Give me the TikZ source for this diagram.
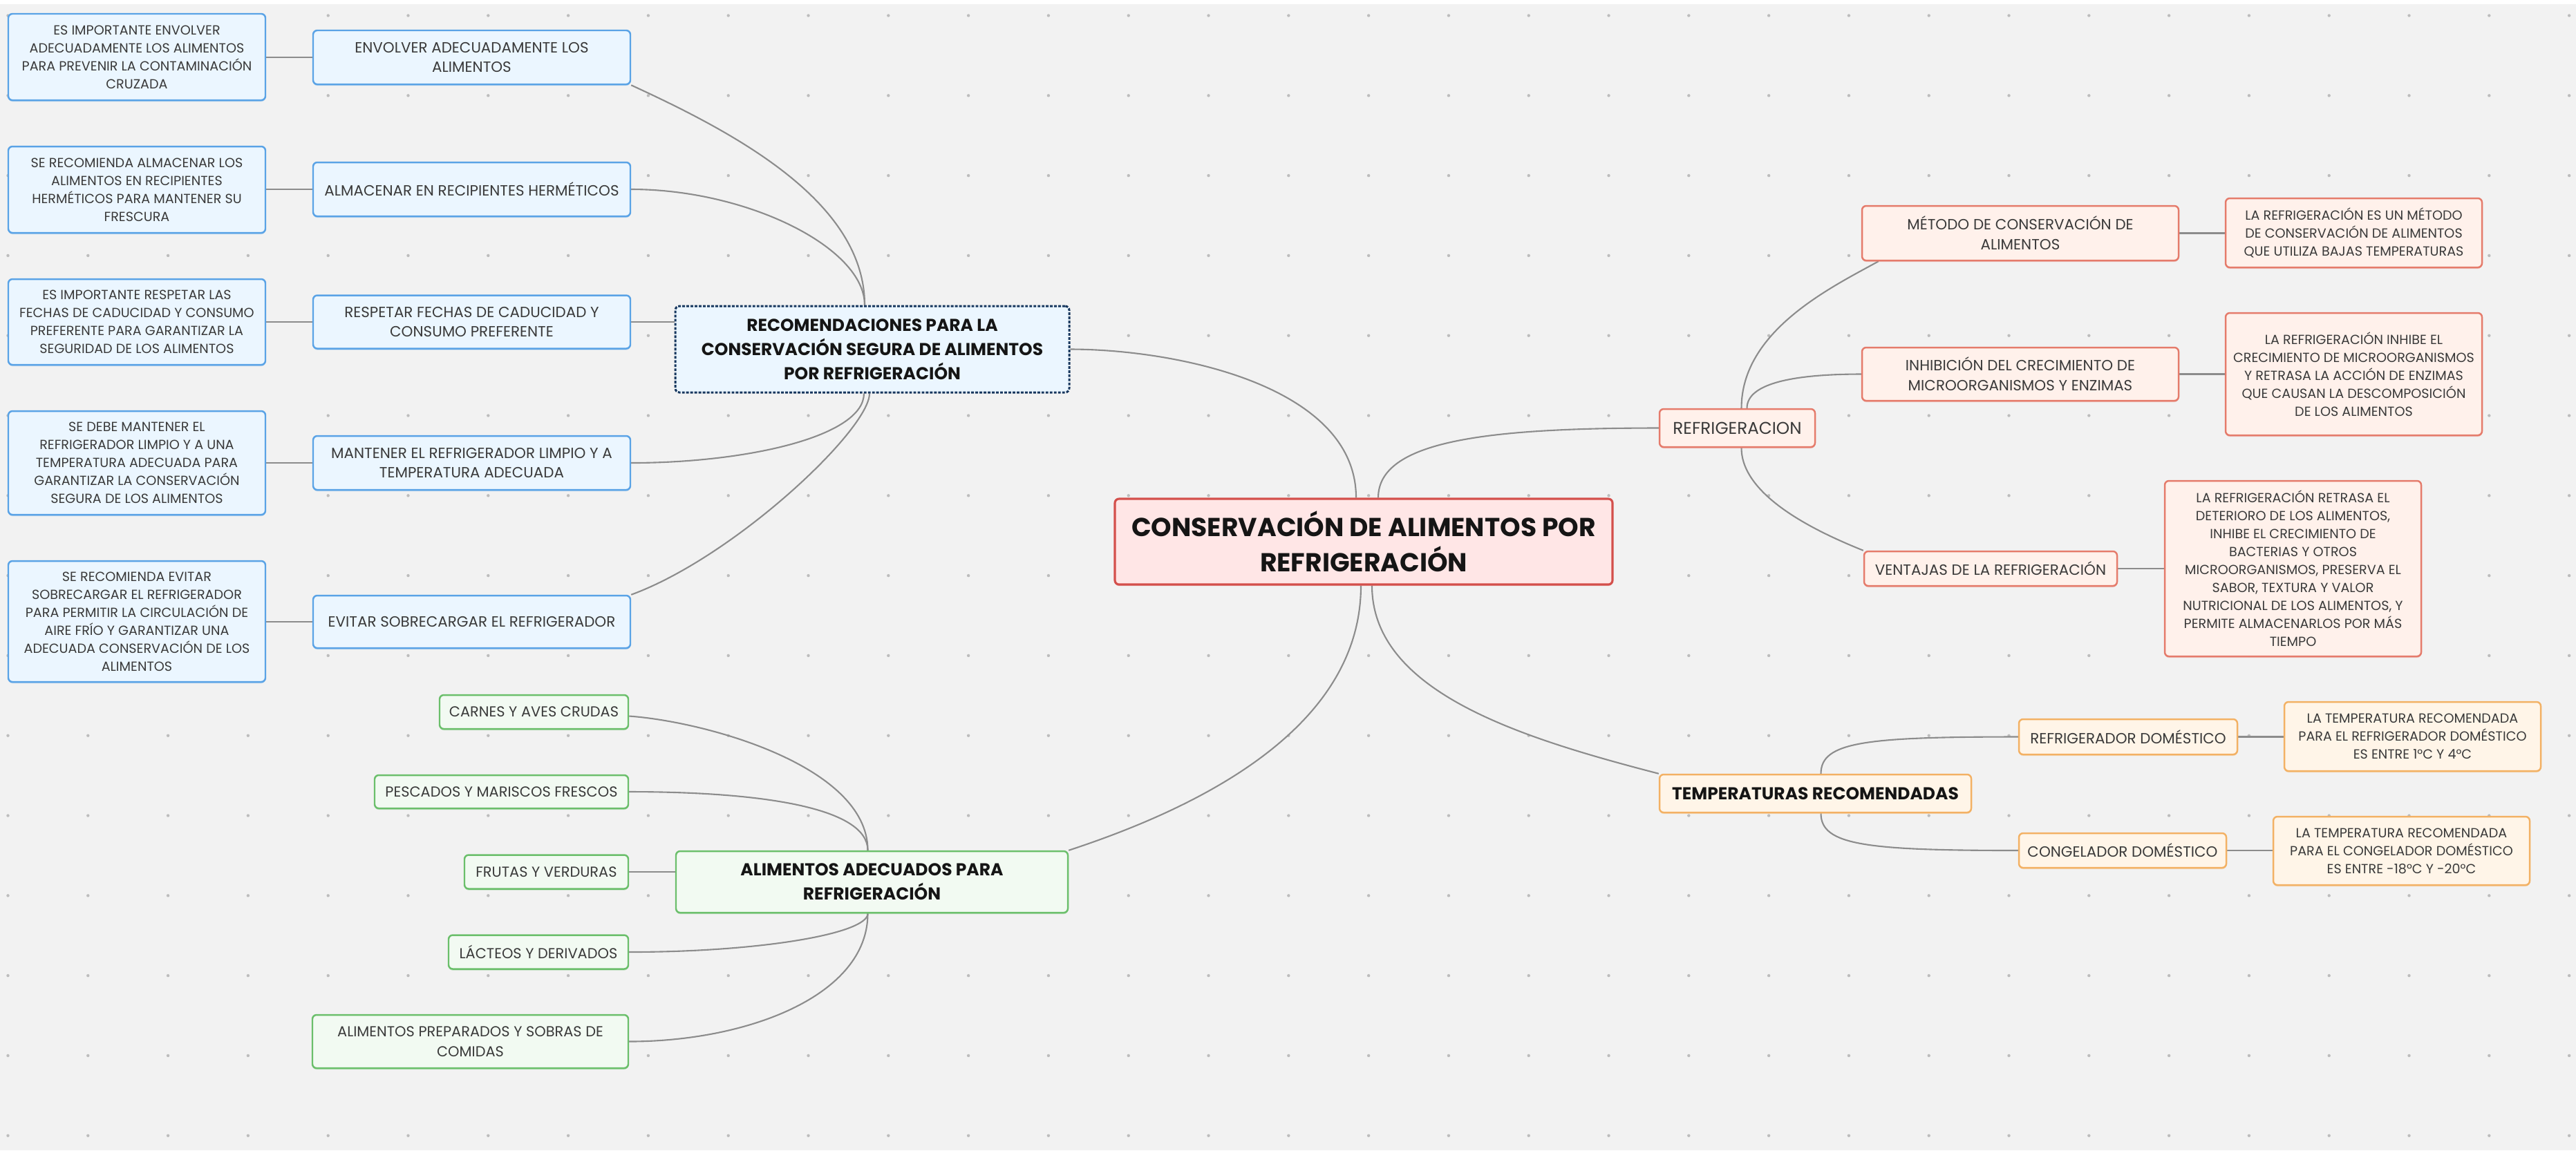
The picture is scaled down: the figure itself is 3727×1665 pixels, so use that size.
\documentclass[tikz,border=0pt]{standalone}
\usepackage{fontspec}
\setmainfont{Poppins}
\usetikzlibrary{calc,shadows}
\definecolor{bgc}{HTML}{F2F2F2}
\definecolor{dotc}{HTML}{BDBDBD}
\definecolor{linec}{HTML}{8C8C8C}
\definecolor{txt}{HTML}{3A3A3A}
\definecolor{txtb}{HTML}{151515}
\definecolor{blueB}{HTML}{5AA3E6}
\definecolor{blueF}{HTML}{EBF6FF}
\definecolor{navy}{HTML}{17375E}
\definecolor{redB}{HTML}{D4504C}
\definecolor{redF}{HTML}{FFE6E6}
\definecolor{salB}{HTML}{E57B6B}
\definecolor{salF}{HTML}{FFF1EB}
\definecolor{oraB}{HTML}{F3B164}
\definecolor{oraF}{HTML}{FFF5E8}
\definecolor{grnB}{HTML}{6BBF6B}
\definecolor{grnF}{HTML}{F2FAF2}
\pgfdeclarelayer{bg}
\pgfdeclarelayer{edges}
\pgfsetlayers{bg,edges,main}
\tikzset{
  sz/.style 2 args={minimum width=#1*0.01cm, minimum height=#2*0.01cm},
  box/.style={rounded corners=0.06cm, align=center, inner sep=0pt, line width=0.7pt, text=txt},
  bluebox/.style={box, draw=blueB, fill=blueF,
    drop shadow={shadow xshift=0pt, shadow yshift=-0.6pt, opacity=0.35, fill=blueB}},
  salbox/.style={box, draw=salB, fill=salF,
    drop shadow={shadow xshift=0pt, shadow yshift=-0.6pt, opacity=0.35, fill=salB}},
  orabox/.style={box, draw=oraB, fill=oraF,
    drop shadow={shadow xshift=0pt, shadow yshift=-0.6pt, opacity=0.35, fill=oraB}},
  grnbox/.style={box, draw=grnB, fill=grnF,
    drop shadow={shadow xshift=0pt, shadow yshift=-0.6pt, opacity=0.35, fill=grnB}},
  redbox/.style={box, draw=redB, fill=redF,
    drop shadow={shadow xshift=0pt, shadow yshift=-0.6pt, opacity=0.35, fill=redB}},
  fdet/.style={font=\fontsize{5.45}{7.4}\selectfont},
  flvl/.style={font=\fontsize{6.1}{8.2}\selectfont},
  fgrn/.style={font=\fontsize{5.95}{8.2}\selectfont},
  fbold/.style={font=\fontsize{7.1}{9.9}\selectfont\bfseries, text=txtb},
  conn/.style={draw=linec, line width=0.6pt},
}
\begin{document}
\begin{tikzpicture}[x=0.01cm, y=-0.01cm]
\useasboundingbox (0,0) rectangle (3727,1665);
\begin{pgfonlayer}{bg}
\fill[bgc] (0,0) rectangle (3727,1665);
\fill[white] (0,0) rectangle (3727,6);
\foreach \i in {0,...,32} {
  \foreach \j in {0,...,14} {
    \fill[dotc] ({11.5+115.8*\i},{22.5+115.8*\j}) circle[radius=0.022cm];
  }
}
\end{pgfonlayer}

% ---------- central node ----------
\node[redbox, line width=0.9pt, sz={720}{124},
      font=\fontsize{10.7}{14.5}\selectfont\bfseries, text=txtb] (center) at (1973,784)
      {CONSERVACIÓN DE ALIMENTOS POR\\REFRIGERACIÓN};

% ---------- recommendations branch ----------
\node[rounded corners=0.06cm, align=center, inner sep=0pt, draw=navy, fill=blueF,
      line width=0.85pt, dash pattern=on 1.1pt off 0.6pt, sz={570}{125}, fbold] (rec) at (1262,505.5)
      {RECOMENDACIONES PARA LA\\CONSERVACIÓN SEGURA DE ALIMENTOS\\POR REFRIGERACIÓN};

\node[bluebox, sz={459}{78}, flvl] (envolver) at (682.5,83) {ENVOLVER ADECUADAMENTE LOS\\ALIMENTOS};
\node[bluebox, sz={459}{78}, flvl] (almacenar) at (682.5,274) {ALMACENAR EN RECIPIENTES HERMÉTICOS};
\node[bluebox, sz={459}{77}, flvl] (respetar) at (682.5,466) {RESPETAR FECHAS DE CADUCIDAD Y\\CONSUMO PREFERENTE};
\node[bluebox, sz={459}{78}, flvl] (mantener) at (682.5,670) {MANTENER EL REFRIGERADOR LIMPIO Y A\\TEMPERATURA ADECUADA};
\node[bluebox, sz={459}{76}, flvl] (evitar) at (682.5,900) {EVITAR SOBRECARGAR EL REFRIGERADOR};

\node[bluebox, sz={372}{125}, fdet] (d1) at (198,82.5) {ES IMPORTANTE ENVOLVER\\ADECUADAMENTE LOS ALIMENTOS\\PARA PREVENIR LA CONTAMINACIÓN\\CRUZADA};
\node[bluebox, sz={372}{125}, fdet] (d2) at (198,274.5) {SE RECOMIENDA ALMACENAR LOS\\ALIMENTOS EN RECIPIENTES\\HERMÉTICOS PARA MANTENER SU\\FRESCURA};
\node[bluebox, sz={372}{124}, fdet] (d3) at (198,466) {ES IMPORTANTE RESPETAR LAS\\FECHAS DE CADUCIDAD Y CONSUMO\\PREFERENTE PARA GARANTIZAR LA\\SEGURIDAD DE LOS ALIMENTOS};
\node[bluebox, sz={372}{150}, fdet] (d4) at (198,670) {SE DEBE MANTENER EL\\REFRIGERADOR LIMPIO Y A UNA\\TEMPERATURA ADECUADA PARA\\GARANTIZAR LA CONSERVACIÓN\\SEGURA DE LOS ALIMENTOS};
\node[bluebox, sz={372}{175}, fdet] (d5) at (198,899.5) {SE RECOMIENDA EVITAR\\SOBRECARGAR EL REFRIGERADOR\\PARA PERMITIR LA CIRCULACIÓN DE\\AIRE FRÍO Y GARANTIZAR UNA\\ADECUADA CONSERVACIÓN DE LOS\\ALIMENTOS};

% ---------- foods branch ----------
\node[grnbox, sz={567}{89}, fbold] (ali) at (1261.5,1276.5) {ALIMENTOS ADECUADOS PARA\\REFRIGERACIÓN};
\node[grnbox, sz={273}{49}, fgrn] (carnes) at (772.5,1030.5) {CARNES Y AVES CRUDAS};
\node[grnbox, sz={367}{48}, fgrn] (pescados) at (725.5,1146) {PESCADOS Y MARISCOS FRESCOS};
\node[grnbox, sz={237}{49}, fgrn] (frutas) at (790.5,1262) {FRUTAS Y VERDURAS};
\node[grnbox, sz={260}{49}, fgrn] (lacteos) at (779,1378) {LÁCTEOS Y DERIVADOS};
\node[grnbox, sz={457}{77}, fgrn] (prep) at (680.5,1507.5) {ALIMENTOS PREPARADOS Y SOBRAS DE\\COMIDAS};

% ---------- refrigeration branch ----------
\node[salbox, sz={225}{55}, font=\fontsize{7}{8.5}\selectfont] (refrig) at (2513.5,619.5) {REFRIGERACION};
\node[salbox, sz={458}{79}, flvl] (metodo) at (2923,337.5) {MÉTODO DE CONSERVACIÓN DE\\ALIMENTOS};
\node[salbox, sz={458}{77}, flvl] (inhib) at (2923,541.5) {INHIBICIÓN DEL CRECIMIENTO DE\\MICROORGANISMOS Y ENZIMAS};
\node[salbox, sz={366}{50}, flvl] (ventajas) at (2880,823) {VENTAJAS DE LA REFRIGERACIÓN};
\node[salbox, sz={371}{100}, fdet] (rd1) at (3405.5,337) {LA REFRIGERACIÓN ES UN MÉTODO\\DE CONSERVACIÓN DE ALIMENTOS\\QUE UTILIZA BAJAS TEMPERATURAS};
\node[salbox, sz={371}{177}, fdet] (rd2) at (3405.5,541.5) {LA REFRIGERACIÓN INHIBE EL\\CRECIMIENTO DE MICROORGANISMOS\\Y RETRASA LA ACCIÓN DE ENZIMAS\\QUE CAUSAN LA DESCOMPOSICIÓN\\DE LOS ALIMENTOS};
\node[salbox, sz={371}{254}, fdet] (rd3) at (3317.5,823) {LA REFRIGERACIÓN RETRASA EL\\DETERIORO DE LOS ALIMENTOS,\\INHIBE EL CRECIMIENTO DE\\BACTERIAS Y OTROS\\MICROORGANISMOS, PRESERVA EL\\SABOR, TEXTURA Y VALOR\\NUTRICIONAL DE LOS ALIMENTOS, Y\\PERMITE ALMACENARLOS POR MÁS\\TIEMPO};

% ---------- temperatures branch ----------
\node[orabox, sz={451}{55}, fbold] (temp) at (2626.5,1148.5) {TEMPERATURAS RECOMENDADAS};
\node[orabox, sz={316}{51}, flvl] (refdom) at (3079,1066.5) {REFRIGERADOR DOMÉSTICO};
\node[orabox, sz={300}{50}, flvl] (congdom) at (3071,1231) {CONGELADOR DOMÉSTICO};
\node[orabox, sz={371}{100}, fdet] (od1) at (3490.5,1066) {LA TEMPERATURA RECOMENDADA\\PARA EL REFRIGERADOR DOMÉSTICO\\ES ENTRE 1°C Y 4°C};
\node[orabox, sz={371}{99}, fdet] (od2) at (3474.5,1231.5) {LA TEMPERATURA RECOMENDADA\\PARA EL CONGELADOR DOMÉSTICO\\ES ENTRE -18°C Y -20°C};

% ---------- connectors ----------
\begin{pgfonlayer}{edges}
\draw[conn] ($(center.north)+(-11,0)$) .. controls +(0,-162) and +(153,0) .. (rec.east);
\draw[conn] ($(center.north)+(21,0)$) .. controls +(0,-82) and +(-251,0) .. (refrig.west);
\draw[conn] ($(center.south)+(-4,0)$) .. controls +(0,204) and +(195,-64) .. (ali.north east);
\draw[conn] ($(center.south)+(12,0)$) .. controls +(0,154) and +(-200,-52) .. (temp.north west);

\draw[conn] (envolver.south east) .. controls +(150,69) and +(0,-150) .. ($(rec.north)+(-11,0)$);
\draw[conn] (almacenar.east) .. controls +(168,0) and +(0,-83) .. ($(rec.north)+(-11,0)$);
\draw[conn] (respetar.east) -- (respetar.east -| rec.west);
\draw[conn] (mantener.east) .. controls +(168,0) and +(0,62) .. ($(rec.south)+(-12,0)$);
\draw[conn] (evitar.north east) .. controls +(150,-55) and +(0,52) .. ($(rec.south)+(-4,0)$);

\draw[conn] (envolver.west) -- (envolver.west -| d1.east);
\draw[conn] (almacenar.west) -- (almacenar.west -| d2.east);
\draw[conn] (respetar.west) -- (respetar.west -| d3.east);
\draw[conn] (mantener.west) -- (mantener.west -| d4.east);
\draw[conn] (evitar.west) -- (evitar.west -| d5.east);

\draw[conn] ($(carnes.east)+(0,6)$) .. controls +(111,8) and +(0,-122) .. ($(ali.north)+(-6,0)$);
\draw[conn] (pescados.east) .. controls +(191,0) and +(0,-62) .. ($(ali.north)+(-6,0)$);
\draw[conn] (frutas.east) -- (frutas.east -| ali.west);
\draw[conn] (lacteos.east) .. controls +(191,0) and +(0,29) .. ($(ali.south)+(-6,0)$);
\draw[conn] (prep.east) .. controls +(171,0) and +(0,119) .. ($(ali.south)+(-6,0)$);

\draw[conn] ($(refrig.north)+(6,0)$) .. controls +(0,-112) and +(-69,38) .. ($(metodo.south west)+(25,0)$);
\draw[conn] ($(refrig.north)+(14,0)$) .. controls +(0,-37) and +(-94,0) .. (inhib.west);
\draw[conn] ($(refrig.south)+(6,0)$) .. controls +(0,73) and +(-57,-23) .. (ventajas.north west);
\draw[conn] (metodo.east) -- (metodo.east -| rd1.west);
\draw[conn] (inhib.east) -- (inhib.east -| rd2.west);
\draw[conn] (ventajas.east) -- (ventajas.east -| rd3.west);

\draw[conn] ($(temp.north)+(8,0)$) .. controls +(0,-46) and +(-221,0) .. (refdom.west);
\draw[conn] ($(temp.south)+(8,0)$) .. controls +(0,46) and +(-221,0) .. (congdom.west);
\draw[conn] (refdom.east) -- (refdom.east -| od1.west);
\draw[conn] (congdom.east) -- (congdom.east -| od2.west);
\end{pgfonlayer}
\end{tikzpicture}
\end{document}
